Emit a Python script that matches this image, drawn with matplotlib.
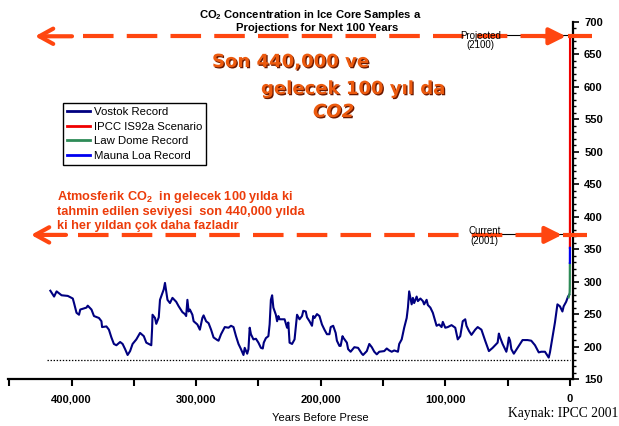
import numpy as np
import matplotlib
matplotlib.use("Agg")
import matplotlib.pyplot as plt
import matplotlib.transforms as mtransforms
from matplotlib import patheffects as pe
from matplotlib.ticker import MultipleLocator, FuncFormatter

plt.rcParams['font.family'] = ['Liberation Sans', 'DejaVu Sans']
plt.rcParams['mathtext.fontset'] = 'custom'
plt.rcParams['mathtext.rm'] = 'Liberation Sans'
plt.rcParams['mathtext.bf'] = 'Liberation Sans:bold'
plt.rcParams['lines.scale_dashes'] = False

# --- data ---
# Vostok record: age (kyr before present) and CO2 (ppmv)
vostok_kyr = [417, 414, 412, 408, 403, 399, 398, 396, 394, 393, 388, 387, 384, 382, 378, 376,
              375.5, 372, 370, 368, 366, 364, 361, 359, 357, 355, 353, 351, 348, 345, 342, 340,
              336, 335.3, 335, 333, 332, 330, 329, 327, 326, 325, 324, 323, 321, 319, 316, 314,
              311, 309, 308, 307, 306, 305, 303, 302, 299, 297, 295, 294, 292, 290, 288, 286,
              283, 282, 280, 277, 274, 272, 270, 268, 266, 264, 262, 261, 259, 258, 257, 256,
              254, 252, 250, 248, 246.5, 245.7, 244, 242, 241, 240, 239, 238, 236, 235, 234, 233,
              229, 227, 226, 225, 223, 221, 219, 217, 215, 214, 212, 211, 209, 207, 206, 205,
              203, 201, 199, 197, 195, 193, 192, 190, 188, 187, 185, 184, 182.5, 182, 179, 178,
              176, 173, 170, 167, 166, 163, 161, 159, 157, 155, 153, 149, 147, 145, 143, 141,
              138, 137, 135, 133, 131, 130, 129, 127, 126, 125, 123, 122, 120, 118, 117, 115,
              114, 112, 110, 108, 107, 105, 103, 102, 100, 98, 95, 92, 90, 88, 86, 84,
              83, 81, 79, 76, 74, 71, 68, 65, 62, 58, 57, 56, 54, 51, 50, 49,
              48, 47, 45, 42, 38, 34, 31, 28, 25, 23, 20, 18, 17, 16, 14, 12,
              10, 8, 6, 5, 3, 1.5, 0.5]
vostok_co2 = [286, 277, 285, 279, 278, 274, 267, 252, 249, 257, 260, 263, 257, 247, 244, 239,
              230, 231, 226, 214, 204, 202, 207, 204, 196, 187, 193, 204, 211, 221, 216, 206,
              202, 229, 249, 244, 235, 245, 272, 283, 288, 298, 285, 272, 267, 275, 269, 262,
              253, 250, 247, 272, 254, 257, 249, 239, 234, 226, 244, 248, 239, 236, 226, 214,
              210, 209, 219, 230, 229, 232, 230, 216, 204, 196, 187, 198, 189, 196, 229, 219,
              211, 212, 206, 198, 197, 206, 213, 216, 234, 272, 279, 260, 249, 239, 247, 242,
              242, 229, 237, 206, 204, 211, 249, 242, 247, 255, 254, 245, 239, 232, 247, 244,
              250, 247, 234, 226, 219, 219, 230, 232, 221, 209, 201, 201, 216, 214, 206, 196,
              192, 199, 198, 189, 187, 193, 204, 199, 192, 188, 192, 193, 197, 194, 192, 194,
              192, 204, 211, 229, 244, 260, 285, 265, 275, 267, 277, 270, 274, 270, 265, 272,
              264, 260, 252, 239, 232, 234, 230, 238, 229, 230, 233, 229, 211, 216, 239, 242,
              232, 224, 218, 226, 230, 226, 209, 193, 198, 206, 220, 214, 204, 192, 201, 214,
              209, 196, 189, 198, 210, 210, 209, 202, 191, 192, 192, 186, 183, 191, 214, 237,
              265, 262, 254, 262, 269, 277, 280]
# Law Dome, Mauna Loa, IPCC IS92a: years before present
law_yrs = [1000, 600, 300, 150, 80, 40, 10]
law_co2 = [276, 279, 281, 285, 292, 305, 328]
mauna_yrs = [-9, -51]
mauna_co2 = [329, 352]
ipcc_yrs = [-51, -150]
ipcc_co2 = [352, 678]
series_names = ['Vostok Record', 'IPCC IS92a Scenario', 'Law Dome Record', 'Mauna Loa Record']
series_colors = ['#000080', '#F00000', '#2E8B57', '#0000F0']
floor_co2 = 180
floor_yrs = [420000, 0]
current_co2 = 372
projected_co2 = 678
x_ticks = [400000, 300000, 200000, 100000, 0]

W, H = 619, 426
fig = plt.figure(figsize=(W / 100, H / 100), dpi=100)
ax = fig.add_axes([8 / W, 1 - 379 / H, 565 / W, 357 / H])


def fx(px):
    return px / W


def fy(py):
    return 1 - py / H


vostok_yrs = np.array(vostok_kyr) * 1000
lines = []
lines.append(ax.plot(vostok_yrs, vostok_co2, color=series_colors[0], lw=1.5, zorder=3)[0])
lines.append(ax.plot(ipcc_yrs, ipcc_co2, color=series_colors[1], lw=1.6, zorder=3, clip_on=False)[0])
lines.append(ax.plot(law_yrs, law_co2, color=series_colors[2], lw=1.6, zorder=3)[0])
lines.append(ax.plot(mauna_yrs, mauna_co2, color=series_colors[3], lw=1.6, zorder=3)[0])
ax.plot(floor_yrs, [floor_co2] * 2, ls=(0, (1, 1.2)), color='k', lw=0.9, zorder=2)

ax.set_xlim(451000, -2500)
ax.set_ylim(150, 700)
for s in ('top', 'left'):
    ax.spines[s].set_visible(False)
for s in ('bottom', 'right'):
    ax.spines[s].set_linewidth(1.6)
ax.yaxis.tick_right()
ax.xaxis.set_major_locator(plt.FixedLocator(x_ticks))
ax.xaxis.set_minor_locator(MultipleLocator(50000))
ax.xaxis.set_major_formatter(FuncFormatter(lambda v, p: f"{v:,.0f}"))
ax.yaxis.set_major_locator(MultipleLocator(50))
ax.yaxis.set_minor_locator(MultipleLocator(10))
ax.tick_params(axis='x', which='both', direction='out', length=5, width=1.5, pad=6,
               labelsize=8)
ax.tick_params(axis='y', which='major', direction='out', length=4, width=1.2, pad=4,
               labelsize=8)
ax.tick_params(axis='y', which='minor', direction='out', length=2.5, width=1)
for lab in ax.get_xticklabels() + ax.get_yticklabels():
    lab.set_fontweight('bold')

leg = ax.legend(lines, series_names, loc='upper left', bbox_to_anchor=(fx(63), fy(103)),
                bbox_transform=fig.transFigure, fontsize=8.2, frameon=True, fancybox=False,
                framealpha=1, edgecolor='k', borderaxespad=0, borderpad=0.35,
                handlelength=2.0, handletextpad=0.35, labelspacing=0.4)
leg.get_frame().set_linewidth(1.0)
for h in leg.get_lines():
    h.set_linewidth(2)

# --- orange dashed arrows (figure-x, data-y) ---
arrow_c = '#FF4610'
blend = mtransforms.blended_transform_factory(fig.transFigure, ax.transData)
for yv, (tipL, shaftL, dashL, dashR, tipR, barL, barR) in [
        (projected_co2, (35, 72, 83, 550, 566, 568, 592)),
        (current_co2, (31, 66, 78, 546, 562, 563, 587))]:
    ax.plot([fx(500), fx(570)], [yv + 1.5, yv + 1.5], transform=blend, color='k', lw=0.8,
            clip_on=False, zorder=4)
    ax.annotate('', xy=(fx(tipL), yv), xytext=(fx(shaftL), yv), xycoords=blend, textcoords=blend,
                arrowprops=dict(arrowstyle='->,head_length=1.0,head_width=0.55', color=arrow_c,
                                lw=3.0, shrinkA=0, shrinkB=0), annotation_clip=False, zorder=6)
    ax.plot([fx(dashL), fx(dashR)], [yv, yv], transform=blend, color=arrow_c, lw=3.0,
            ls=(0, (22, 9.5)), clip_on=False, zorder=6)
    ax.annotate('', xy=(fx(tipR), yv), xytext=(fx(dashR - 6), yv), xycoords=blend, textcoords=blend,
                arrowprops=dict(arrowstyle='-|>,head_length=1.0,head_width=0.5', color=arrow_c,
                                lw=3.0, shrinkA=0, shrinkB=0), annotation_clip=False, zorder=6)
    ax.plot([fx(barL), fx(barR)], [yv, yv], transform=blend, color=arrow_c, lw=3.0,
            solid_capstyle='butt', clip_on=False, zorder=6)

fig.text(fx(481), fy(36), 'Projected', ha='center', va='center', fontsize=7, zorder=5)
fig.text(fx(480), fy(45), '(2100)', ha='center', va='center', fontsize=7, zorder=5)
fig.text(fx(485), fy(231), 'Current', ha='center', va='center', fontsize=7, zorder=5)
fig.text(fx(484), fy(241), '(2001)', ha='center', va='center', fontsize=7, zorder=5)

# --- titles and labels ---
fig.text(fx(310), fy(15), r'CO$_\mathbf{2}$ Concentration in Ice Core Samples a', ha='center',
         va='center', fontsize=8.1, fontweight='bold')
fig.text(fx(317), fy(28), 'Projections for Next 100 Years', ha='center', va='center',
         fontsize=8.1, fontweight='bold')
fig.text(fx(320), fy(418), 'Years Before Prese', ha='center', va='center', fontsize=8)
fig.text(fx(508), fy(413), 'Kaynak: IPCC 2001', ha='left', va='center', fontsize=9.8,
         family=['Liberation Serif', 'DejaVu Serif'])

# --- Turkish annotations ---
shadow = [pe.SimplePatchShadow(offset=(0.9, -0.9), shadow_rgbFace='#6A1800', alpha=1.0), pe.Normal()]
big = dict(fontsize=13, fontweight='bold', color='#EC5A0E', va='center', ha='left',
           family=['DejaVu Sans'], path_effects=shadow)
fig.text(fx(212), fy(62), 'Son 440,000 ve', **big)
fig.text(fx(261), fy(89), 'gelecek 100 yıl da', **big)
fig.text(fx(313), fy(112), 'CO2', style='italic', **big)

red_c = '#EC3C0A'
for i, t in enumerate([r'Atmosferik CO$_\mathbf{2}$  in gelecek 100 yılda ki',
                       'tahmin edilen seviyesi  son 440,000 yılda',
                       'ki her yıldan çok daha fazladır']):
    fig.text(fx(57), fy(197 + 14.5 * i), t, ha='left', va='center', fontsize=9.2,
             fontweight='bold', color=red_c)

fig.savefig('out.png', dpi=100)
